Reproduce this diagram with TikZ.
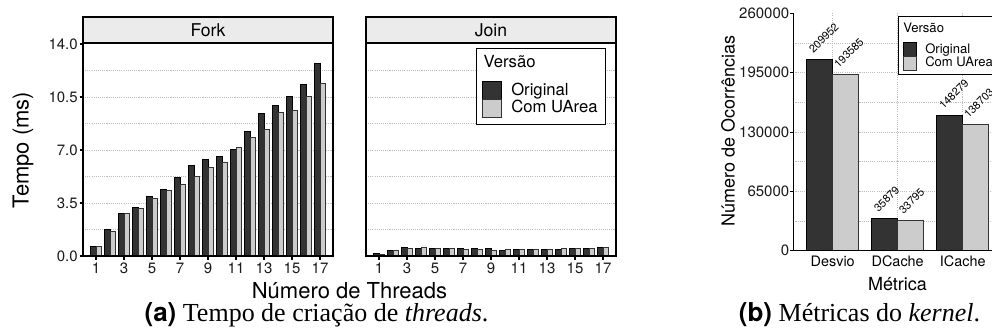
\documentclass[tikz,border=0pt]{standalone}
\usepackage{fontspec}
\setmainfont{Liberation Serif}
\setsansfont{TeX Gyre Heros}
\definecolor{barDark}{HTML}{333333}
\definecolor{barLight}{HTML}{CCCCCC}
\definecolor{stripFill}{HTML}{EBEBEB}
\definecolor{gridCol}{HTML}{BDBDBD}
\definecolor{txtCol}{HTML}{1A1A1A}
\tikzset{
  gridline/.style={gridCol, line width=0.6pt, dash pattern=on 0.8pt off 0.8pt},
  darkbar/.style={fill=barDark, draw=black, line width=0.5pt},
  lightbar/.style={fill=barLight, draw=barDark, line width=0.5pt},
  panelbox/.style={draw=black, line width=1.2pt},
  stripbox/.style={draw=black, fill=stripFill, line width=1.2pt},
  tickmark/.style={black, line width=0.8pt},
  ticklab/.style={font=\sffamily\fontsize{11.25}{12}\selectfont, text=txtCol, inner sep=0pt},
  striplab/.style={font=\sffamily\fontsize{13.2}{14}\selectfont, inner sep=0pt, anchor=base},
  axtitle/.style={font=\sffamily\fontsize{16.5}{18}\selectfont, inner sep=0pt},
  axtitleb/.style={font=\sffamily\fontsize{13.5}{15}\selectfont, inner sep=0pt},
  leglabA/.style={font=\sffamily\fontsize{12.5}{13}\selectfont, inner sep=0pt, anchor=base west},
  leglabB/.style={font=\sffamily\fontsize{9.8}{11}\selectfont, inner sep=0pt, anchor=base west},
  catlab/.style={font=\sffamily\fontsize{10.8}{12}\selectfont, inner sep=0pt, anchor=base},
  vallab/.style={font=\sffamily\fontsize{8.2}{9}\selectfont, inner sep=0pt, anchor=south west, rotate=45},
  legbox/.style={draw=black, fill=white, line width=0.7pt},
  captext/.style={font=\fontsize{19.5}{21}\selectfont, inner sep=0pt, anchor=base},
}
\begin{document}
\begin{tikzpicture}[x=0.75pt,y=-0.75pt]
\useasboundingbox (0,0) rectangle (992,335);
\clip (0,0) rectangle (992,335);

% ================= Fork panel =================
\foreach \k in {1,...,7} {
  \draw[gridline] (83,{256-\k*1.75*15.143}) -- (333,{256-\k*1.75*15.143});
}
\foreach \i/\a/\b in {1/0.64/0.64,2/1.76/1.65,3/2.84/2.84,4/3.19/3.13,5/3.92/3.81,6/4.38/4.31,7/5.19/4.75,8/5.97/5.24,9/6.41/5.83,10/6.58/6.21,11/7.07/7.15,12/8.21/7.86,13/9.40/8.39,14/9.97/9.47,15/10.52/9.64,16/11.36/10.52,17/12.70/11.38} {
  \draw[darkbar] ({96+(\i-1)*14-5.6},256) rectangle ({96+(\i-1)*14},{256-\a*15.143});
  \draw[lightbar] ({96+(\i-1)*14},256) rectangle ({96+(\i-1)*14+5.6},{256-\b*15.143});
}
\draw[panelbox] (83,43) rectangle (333,256);
\draw[stripbox] (83,17) rectangle (333,43);
\node[striplab] (forklab) at (208,36.5) {Fork};
\foreach \v/\l [count=\n] in {0/0.0,3.5/3.5,7/7.0,10.5/10.5,14/14.0} {
  \draw[tickmark] (79.5,{256-\v*15.143}) -- (83,{256-\v*15.143});
  \node[ticklab, anchor=east] (fy\n) at (78,{256-\v*15.143}) {\l};
}
\foreach \i in {1,3,...,17} {
  \draw[tickmark] ({96+(\i-1)*14},256) -- ({96+(\i-1)*14},259.5);
  \node[ticklab, anchor=base] (fx\i) at ({96+(\i-1)*14},273) {\i};
}

% ================= Join panel =================
\foreach \k in {1,...,7} {
  \draw[gridline] (366,{256-\k*1.75*15.143}) -- (616,{256-\k*1.75*15.143});
}
\foreach \i/\a/\b in {1/0.18/0.10,2/0.40/0.40,3/0.55/0.53,4/0.53/0.57,5/0.48/0.48,6/0.48/0.48,7/0.48/0.46,8/0.50/0.46,9/0.48/0.40,10/0.40/0.42,11/0.46/0.46,12/0.46/0.46,13/0.46/0.46,14/0.46/0.48,15/0.48/0.48,16/0.53/0.53,17/0.57/0.55} {
  \draw[darkbar] ({379+(\i-1)*14-5.6},256) rectangle ({379+(\i-1)*14},{256-\a*15.143});
  \draw[lightbar] ({379+(\i-1)*14},256) rectangle ({379+(\i-1)*14+5.6},{256-\b*15.143});
}
\draw[panelbox] (366,43) rectangle (616,256);
\draw[stripbox] (366,17) rectangle (616,43);
\node[striplab] (joinlab) at (491,36.5) {Join};
\foreach \i in {1,3,...,17} {
  \draw[tickmark] ({379+(\i-1)*14},256) -- ({379+(\i-1)*14},259.5);
  \node[ticklab, anchor=base] (jx\i) at ({379+(\i-1)*14},273) {\i};
}
% legend (a)
\draw[legbox] (476,48.3) rectangle (605.7,124.3);
\node[leglabA] (legAt) at (483.3,67.5) {Versão};
\draw[darkbar] (482.7,81) rectangle (501,99.3);
\draw[lightbar] (482.7,99.3) rectangle (501,117.3);
\node[leglabA] (legAo) at (511,95) {Original};
\node[leglabA] (legAu) at (511,113) {Com UArea};

% axis titles (a)
\node[axtitle, rotate=90] (ytA) at (23,150) {Tempo (ms)};
\node[axtitle, anchor=base] (xtA) at (349.5,298) {Número de Threads};
\node[captext] (capA) at (316.5,321) {{\sffamily\bfseries (a)} Tempo de criação de \textit{threads}.};

% ================= Chart (b) =================
% values in thousands; 59.33 px per 65 thousand
\foreach \k in {1,...,7} {
  \draw[gridline] (793.3,{250.7-\k*29.665}) -- (992,{250.7-\k*29.665});
}
\foreach \c in {0,1,2,3} {
  \draw[gridline] ({832.7+\c*65},13.3) -- ({832.7+\c*65},250.7);
}
\foreach \c/\a/\b/\la/\lb in {0/209.952/193.585/209952/193585,1/35.879/33.795/35879/33795,2/148.279/138.703/148279/138703} {
  \draw[darkbar] ({832.7+\c*65-26},250.7) rectangle ({832.7+\c*65},{250.7-\a*0.91277});
  \draw[lightbar] ({832.7+\c*65},250.7) rectangle ({832.7+\c*65+26},{250.7-\b*0.91277});
  \node[vallab] (va\c) at ({832.7+\c*65-26+7},{250.7-\a*0.91277-5}) {\la};
  \node[vallab] (vb\c) at ({832.7+\c*65+6},{250.7-\b*0.91277-5}) {\lb};
}
\draw[tickmark, line width=1.1pt] (793.3,13.3) -- (793.3,250.7) -- (992,250.7);
\foreach \v/\l [count=\n] in {0/0,65/65000,130/130000,195/195000,260/260000} {
  \draw[tickmark] (790,{250.7-\v*0.91277}) -- (793.3,{250.7-\v*0.91277});
  \node[ticklab, anchor=east] (by\n) at (789.5,{250.7-\v*0.91277}) {\l};
}
\node[catlab] (cat1) at (832.7,266.5) {Desvio};
\node[catlab] (cat2) at (897.7,266.5) {DCache};
\node[catlab] (cat3) at (962.7,266.5) {ICache};
% legend (b)
\draw[legbox] (898.3,16.7) rectangle (1010,74);
\node[leglabB] (legBt) at (903,33) {Versão};
\draw[darkbar] (903.3,42.3) rectangle (916.7,56.7);
\draw[lightbar] (903.3,56.7) rectangle (916.7,70.7);
\node[leglabB] (legBo) at (925,54) {Original};
\node[leglabB] (legBu) at (925,66.5) {Com UArea};

\node[axtitleb, rotate=90] (ytB) at (728,131) {Número de Ocorrências};
\node[axtitleb, anchor=base] (xtB) at (897.5,290) {Métrica};
\node[captext] (capB) at (859.5,321) {{\sffamily\bfseries (b)} Métricas do \textit{kernel}.};
\end{tikzpicture}
\end{document}
